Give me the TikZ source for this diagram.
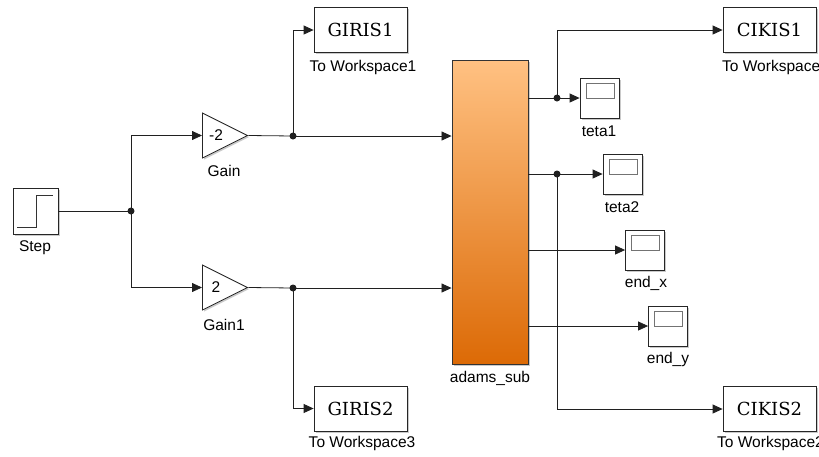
\documentclass[tikz,border=0pt]{standalone}
\usepackage{fontspec}
\setmainfont{Liberation Sans}
\newfontfamily\blockfont{DejaVu Serif}
\usetikzlibrary{arrows.meta,shapes.geometric,shadows}
\definecolor{subtop}{HTML}{FFC182}
\definecolor{subbot}{HTML}{DC6A06}
\definecolor{wire}{HTML}{202020}
\tikzset{
  blk/.style={draw=black!85, line width=0.8pt, fill=white, inner sep=0pt,
    drop shadow={shadow xshift=1.6pt, shadow yshift=-1.6pt, opacity=0.35, fill=black!60}},
  wsbox/.style={blk, minimum width=93pt, minimum height=45pt,
    font=\blockfont\fontsize{18}{20}\selectfont},
  scopebox/.style={blk, minimum width=39pt, minimum height=40pt,
    path picture={\draw[black!55, line width=0.9pt]
      ([xshift=6pt,yshift=-5pt]path picture bounding box.north west) rectangle
      ([xshift=-5pt,yshift=-20pt]path picture bounding box.north east);}},
  gainbox/.style={blk, isosceles triangle, isosceles triangle stretches,
    shape border rotate=0, minimum width=45pt, minimum height=45pt,
    anchor=lower side},
  lbl/.style={font=\fontsize{15.5}{17}\selectfont, inner sep=0pt},
  wire/.style={draw=wire, line width=0.8pt},
  sig/.style={wire, -{Triangle[length=10pt,width=9pt]}},
  dot/.style={circle, fill=wire, inner sep=0pt, minimum size=7pt},
}
\begin{document}
\begin{tikzpicture}[x=1pt,y=-1pt]
\useasboundingbox (0,0) rectangle (819,456);
\clip (0,0) rectangle (819,456);

% source
\node[blk, minimum width=45pt, minimum height=46pt] (step) at (35.5,211) {};
\draw[black!80, line width=0.9pt] (17,227) -- (36,227) -- (36,195) -- (53,195);
\node[lbl] (steplbl) at (35,248) {Step};

% gains
\node[gainbox] (gain) at (202,135.5) {};
\node[lbl] (gaintxt) at (216,135) {-2};
\node[lbl] (gainlbl) at (224,171) {Gain};
\node[gainbox] (gain1) at (202,287.5) {};
\node[lbl] (gain1txt) at (216,287) {2};
\node[lbl] (gain1lbl) at (224,325) {Gain1};

% input workspace blocks
\node[wsbox] (giris1) at (360.5,30) {GIRIS1};
\node[lbl] (giris1lbl) at (363,67) {To Workspace1};
\node[wsbox] (giris2) at (360.5,408.5) {GIRIS2};
\node[lbl] (giris2lbl) at (362,443) {To Workspace3};

% subsystem
\node[draw=black!80, line width=0.9pt, top color=subtop, bottom color=subbot,
  minimum width=76pt, minimum height=304pt, inner sep=0pt,
  drop shadow={shadow xshift=1.6pt, shadow yshift=-1.6pt, opacity=0.35, fill=black!60}]
  (adams) at (490,212) {};
\node[lbl] (adamslbl) at (490,378) {adams\_sub};

% scopes
\node[scopebox] (teta1) at (599.5,98) {};
\node[lbl] (teta1lbl) at (599,131) {teta1};
\node[scopebox] (teta2) at (622.5,174) {};
\node[lbl] (teta2lbl) at (622,207) {teta2};
\node[scopebox] (endx) at (645,250) {};
\node[lbl] (endxlbl) at (646,283) {end\_x};
\node[scopebox] (endy) at (668,326) {};
\node[lbl] (endylbl) at (668,359) {end\_y};

% output workspace blocks
\node[wsbox] (cikis1) at (769.5,30) {CIKIS1};
\node[lbl, anchor=west] (cikis1lbl) at (722,67) {To Workspace};
\node[wsbox] (cikis2) at (769.5,409) {CIKIS2};
\node[lbl, anchor=west] (cikis2lbl) at (717,443) {To Workspace2};

% branch points
\node[dot] (j1) at (131,211) {};
\node[dot] (j2) at (293,136) {};
\node[dot] (j3) at (293,288) {};
\node[dot] (j4) at (557,98) {};
\node[dot] (j5) at (557,174) {};

% subsystem outputs
\coordinate (o1) at (528,98);
\coordinate (o2) at (528,174);
\coordinate (o3) at (528,250);
\coordinate (o4) at (528,326);

% wiring
\draw[wire] (step.east) -- (j1.center);
\draw[sig] (j1.center) |- (gain.lower side);
\draw[sig] (j1.center) |- (gain1.lower side);
\draw[wire] (gain.apex) -- (j2.center);
\draw[wire] (gain1.apex) -- (j3.center);
\draw[sig] (j2.center) -- (j2 -| adams.west);
\draw[sig] (j3.center) -- (j3 -| adams.west);
\draw[sig] (j2.center) |- (giris1.west);
\draw[sig] (j3.center) |- (giris2.west);

\draw[wire] (o1) -- (j4.center);
\draw[sig] (j4.center) -- (teta1.west);
\draw[sig] (j4.center) |- (cikis1.west);
\draw[wire] (o2) -- (j5.center);
\draw[sig] (j5.center) -- (teta2.west);
\draw[sig] (j5.center) |- (cikis2.west);
\draw[sig] (o3) -- (endx.west);
\draw[sig] (o4) -- (endy.west);
\end{tikzpicture}
\end{document}
